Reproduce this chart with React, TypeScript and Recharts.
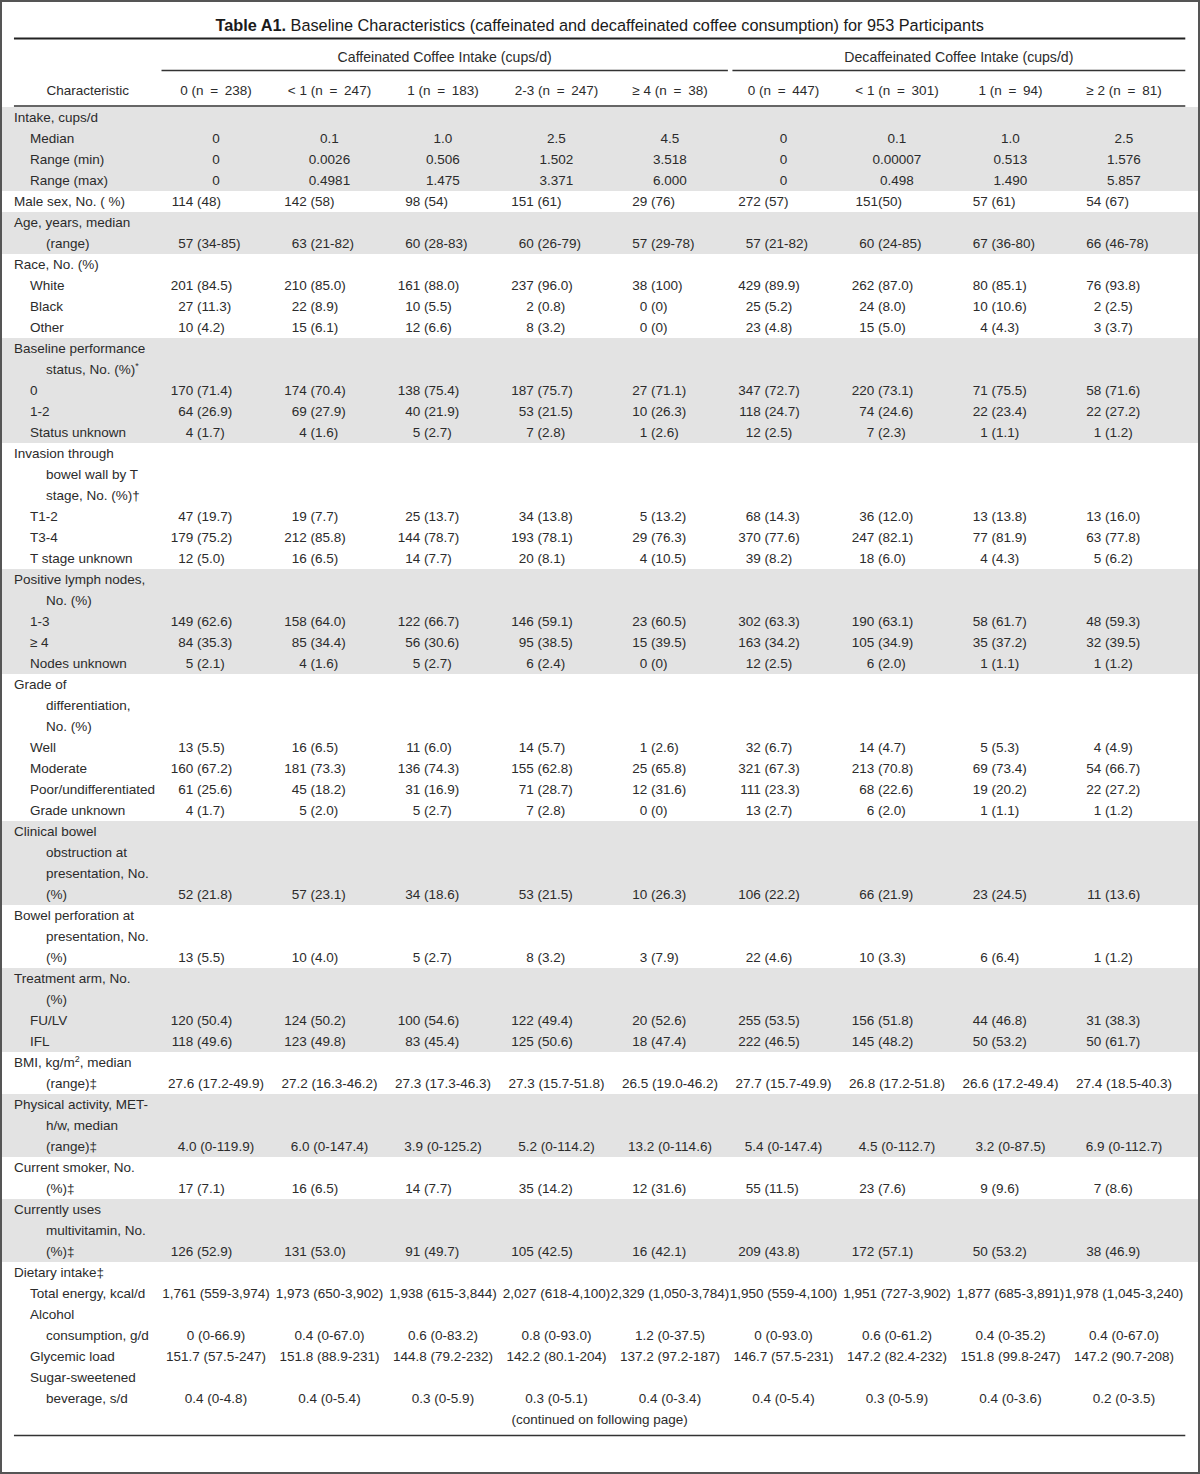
import React from 'react';
import { ScatterChart, Scatter, XAxis, YAxis, ReferenceArea, ReferenceLine } from 'recharts';

// ---------- text content ----------
const TITLE_BOLD = 'Table A1.';
const TITLE_REST = ' Baseline Characteristics (caffeinated and decaffeinated coffee consumption) for 953 Participants';
const GROUP_HEADERS = ['Caffeinated Coffee Intake (cups/d)', 'Decaffeinated Coffee Intake (cups/d)'];
const STUB_HEADER = 'Characteristic';
const COLUMN_HEADERS = [
  '0 (n = 238)', '< 1 (n = 247)', '1 (n = 183)', '2-3 (n = 247)', '\u2265 4 (n = 38)',
  '0 (n = 447)', '< 1 (n = 301)', '1 (n = 94)', '\u2265 2 (n = 81)',
];
const FOOTER = '(continued on following page)';

// ---------- values ----------
const intakeMedian = ['0', '0.1', '1.0', '2.5', '4.5', '0', '0.1', '1.0', '2.5'];
const intakeMin = ['0', '0.0026', '0.506', '1.502', '3.518', '0', '0.00007', '0.513', '1.576'];
const intakeMax = ['0', '0.4981', '1.475', '3.371', '6.000', '0', '0.498', '1.490', '5.857'];
const maleSex = ['114 (48)', '142 (58)', '98 (54)', '151 (61)', '29 (76)', '272 (57)', '151(50)', '57 (61)', '54 (67)'];
const ageRange = ['57 (34-85)', '63 (21-82)', '60 (28-83)', '60 (26-79)', '57 (29-78)', '57 (21-82)', '60 (24-85)', '67 (36-80)', '66 (46-78)'];
const raceWhite = ['201 (84.5)', '210 (85.0)', '161 (88.0)', '237 (96.0)', '38 (100)', '429 (89.9)', '262 (87.0)', '80 (85.1)', '76 (93.8)'];
const raceBlack = ['27 (11.3)', '22 (8.9)', '10 (5.5)', '2 (0.8)', '0 (0)', '25 (5.2)', '24 (8.0)', '10 (10.6)', '2 (2.5)'];
const raceOther = ['10 (4.2)', '15 (6.1)', '12 (6.6)', '8 (3.2)', '0 (0)', '23 (4.8)', '15 (5.0)', '4 (4.3)', '3 (3.7)'];
const ps0 = ['170 (71.4)', '174 (70.4)', '138 (75.4)', '187 (75.7)', '27 (71.1)', '347 (72.7)', '220 (73.1)', '71 (75.5)', '58 (71.6)'];
const ps12 = ['64 (26.9)', '69 (27.9)', '40 (21.9)', '53 (21.5)', '10 (26.3)', '118 (24.7)', '74 (24.6)', '22 (23.4)', '22 (27.2)'];
const psUnknown = ['4 (1.7)', '4 (1.6)', '5 (2.7)', '7 (2.8)', '1 (2.6)', '12 (2.5)', '7 (2.3)', '1 (1.1)', '1 (1.2)'];
const t12 = ['47 (19.7)', '19 (7.7)', '25 (13.7)', '34 (13.8)', '5 (13.2)', '68 (14.3)', '36 (12.0)', '13 (13.8)', '13 (16.0)'];
const t34 = ['179 (75.2)', '212 (85.8)', '144 (78.7)', '193 (78.1)', '29 (76.3)', '370 (77.6)', '247 (82.1)', '77 (81.9)', '63 (77.8)'];
const tUnknown = ['12 (5.0)', '16 (6.5)', '14 (7.7)', '20 (8.1)', '4 (10.5)', '39 (8.2)', '18 (6.0)', '4 (4.3)', '5 (6.2)'];
const ln13 = ['149 (62.6)', '158 (64.0)', '122 (66.7)', '146 (59.1)', '23 (60.5)', '302 (63.3)', '190 (63.1)', '58 (61.7)', '48 (59.3)'];
const ln4 = ['84 (35.3)', '85 (34.4)', '56 (30.6)', '95 (38.5)', '15 (39.5)', '163 (34.2)', '105 (34.9)', '35 (37.2)', '32 (39.5)'];
const lnUnknown = ['5 (2.1)', '4 (1.6)', '5 (2.7)', '6 (2.4)', '0 (0)', '12 (2.5)', '6 (2.0)', '1 (1.1)', '1 (1.2)'];
const gradeWell = ['13 (5.5)', '16 (6.5)', '11 (6.0)', '14 (5.7)', '1 (2.6)', '32 (6.7)', '14 (4.7)', '5 (5.3)', '4 (4.9)'];
const gradeModerate = ['160 (67.2)', '181 (73.3)', '136 (74.3)', '155 (62.8)', '25 (65.8)', '321 (67.3)', '213 (70.8)', '69 (73.4)', '54 (66.7)'];
const gradePoor = ['61 (25.6)', '45 (18.2)', '31 (16.9)', '71 (28.7)', '12 (31.6)', '111 (23.3)', '68 (22.6)', '19 (20.2)', '22 (27.2)'];
const gradeUnknown = ['4 (1.7)', '5 (2.0)', '5 (2.7)', '7 (2.8)', '0 (0)', '13 (2.7)', '6 (2.0)', '1 (1.1)', '1 (1.2)'];
const obstruction = ['52 (21.8)', '57 (23.1)', '34 (18.6)', '53 (21.5)', '10 (26.3)', '106 (22.2)', '66 (21.9)', '23 (24.5)', '11 (13.6)'];
const perforation = ['13 (5.5)', '10 (4.0)', '5 (2.7)', '8 (3.2)', '3 (7.9)', '22 (4.6)', '10 (3.3)', '6 (6.4)', '1 (1.2)'];
const armFULV = ['120 (50.4)', '124 (50.2)', '100 (54.6)', '122 (49.4)', '20 (52.6)', '255 (53.5)', '156 (51.8)', '44 (46.8)', '31 (38.3)'];
const armIFL = ['118 (49.6)', '123 (49.8)', '83 (45.4)', '125 (50.6)', '18 (47.4)', '222 (46.5)', '145 (48.2)', '50 (53.2)', '50 (61.7)'];
const bmi = ['27.6 (17.2-49.9)', '27.2 (16.3-46.2)', '27.3 (17.3-46.3)', '27.3 (15.7-51.8)', '26.5 (19.0-46.2)', '27.7 (15.7-49.9)', '26.8 (17.2-51.8)', '26.6 (17.2-49.4)', '27.4 (18.5-40.3)'];
const activity = ['4.0 (0-119.9)', '6.0 (0-147.4)', '3.9 (0-125.2)', '5.2 (0-114.2)', '13.2 (0-114.6)', '5.4 (0-147.4)', '4.5 (0-112.7)', '3.2 (0-87.5)', '6.9 (0-112.7)'];
const smoker = ['17 (7.1)', '16 (6.5)', '14 (7.7)', '35 (14.2)', '12 (31.6)', '55 (11.5)', '23 (7.6)', '9 (9.6)', '7 (8.6)'];
const multivitamin = ['126 (52.9)', '131 (53.0)', '91 (49.7)', '105 (42.5)', '16 (42.1)', '209 (43.8)', '172 (57.1)', '50 (53.2)', '38 (46.9)'];
const energy = ['1,761 (559-3,974)', '1,973 (650-3,902)', '1,938 (615-3,844)', '2,027 (618-4,100)', '2,329 (1,050-3,784)', '1,950 (559-4,100)', '1,951 (727-3,902)', '1,877 (685-3,891)', '1,978 (1,045-3,240)'];
const alcohol = ['0 (0-66.9)', '0.4 (0-67.0)', '0.6 (0-83.2)', '0.8 (0-93.0)', '1.2 (0-37.5)', '0 (0-93.0)', '0.6 (0-61.2)', '0.4 (0-35.2)', '0.4 (0-67.0)'];
const glycemic = ['151.7 (57.5-247)', '151.8 (88.9-231)', '144.8 (79.2-232)', '142.2 (80.1-204)', '137.2 (97.2-187)', '146.7 (57.5-231)', '147.2 (82.4-232)', '151.8 (99.8-247)', '147.2 (90.7-208)'];
const sugar = ['0.4 (0-4.8)', '0.4 (0-5.4)', '0.3 (0-5.9)', '0.3 (0-5.1)', '0.4 (0-3.4)', '0.4 (0-5.4)', '0.3 (0-5.9)', '0.4 (0-3.6)', '0.2 (0-3.5)'];

// row: [label, indent level, values, alignment] ; '^x^' marks superscript
type Row = [string, number, string[]?, ('c' | 'p')?];
const GROUPS: Row[][] = [
  [['Intake, cups/d', 0], ['Median', 1, intakeMedian, 'c'], ['Range (min)', 1, intakeMin, 'c'], ['Range (max)', 1, intakeMax, 'c']],
  [['Male sex, No. ( %)', 0, maleSex, 'p']],
  [['Age, years, median', 0], ['(range)', 2, ageRange, 'p']],
  [['Race, No. (%)', 0], ['White', 1, raceWhite, 'p'], ['Black', 1, raceBlack, 'p'], ['Other', 1, raceOther, 'p']],
  [['Baseline performance', 0], ['status, No. (%)^*^', 2], ['0', 1, ps0, 'p'], ['1-2', 1, ps12, 'p'], ['Status unknown', 1, psUnknown, 'p']],
  [['Invasion through', 0], ['bowel wall by T', 2], ['stage, No. (%)\u2020', 2], ['T1-2', 1, t12, 'p'], ['T3-4', 1, t34, 'p'], ['T stage unknown', 1, tUnknown, 'p']],
  [['Positive lymph nodes,', 0], ['No. (%)', 2], ['1-3', 1, ln13, 'p'], ['\u2265 4', 1, ln4, 'p'], ['Nodes unknown', 1, lnUnknown, 'p']],
  [['Grade of', 0], ['differentiation,', 2], ['No. (%)', 2], ['Well', 1, gradeWell, 'p'], ['Moderate', 1, gradeModerate, 'p'], ['Poor/undifferentiated', 1, gradePoor, 'p'], ['Grade unknown', 1, gradeUnknown, 'p']],
  [['Clinical bowel', 0], ['obstruction at', 2], ['presentation, No.', 2], ['(%)', 2, obstruction, 'p']],
  [['Bowel perforation at', 0], ['presentation, No.', 2], ['(%)', 2, perforation, 'p']],
  [['Treatment arm, No.', 0], ['(%)', 2], ['FU/LV', 1, armFULV, 'p'], ['IFL', 1, armIFL, 'p']],
  [['BMI, kg/m^2^, median', 0], ['(range)\u2021', 2, bmi, 'c']],
  [['Physical activity, MET-', 0], ['h/w, median', 2], ['(range)\u2021', 2, activity, 'c']],
  [['Current smoker, No.', 0], ['(%)\u2021', 2, smoker, 'p']],
  [['Currently uses', 0], ['multivitamin, No.', 2], ['(%)\u2021', 2, multivitamin, 'p']],
  [['Dietary intake\u2021', 0], ['Total energy, kcal/d', 1, energy, 'c'], ['Alcohol', 1], ['consumption, g/d', 2, alcohol, 'c'], ['Glycemic load', 1, glycemic, 'c'], ['Sugar-sweetened', 1], ['beverage, s/d', 2, sugar, 'c']],
];

// ---------- layout (axis units: x = column index, y = text line index) ----------
const X_DOMAIN: [number, number] = [-0.903, 9.6696];
const Y_DOMAIN: [number, number] = [-5.595, 64.595];
const TABLE_LEFT = -0.78;
const TABLE_RIGHT = 9.54;
const CAF_SPAN: [number, number] = [0.52, 5.51];
const DECAF_SPAN: [number, number] = [5.55, 9.54];
const TITLE_LINE = -4.4;
const GROUP_LINE = -2.88;
const HEADER_LINE = -1.31;
const TOP_RULE = -3.76;
const GROUP_RULE = -2.24;
const HEADER_RULE = -0.55;
const FONT = "'Liberation Sans', Arial, Helvetica, sans-serif";
const INK = '#2b2b2b';
const SHADE = '#e3e3e3';
const FS = 13.5;
const INDENT = [0, 16, 32];
const PAREN_SHIFT = -19;
const SPACE_W = 3.8;

// ---------- build cells ----------
type Cell = { x: number; y: number; text: string; kind: string; indent?: number; bold?: string; size?: number };
const bodyCells: Cell[] = [];
const bands: { y1: number; y2: number }[] = [];
let line = 0;
GROUPS.forEach((g, gi) => {
  const start = line;
  g.forEach(([label, indent, values, align]) => {
    bodyCells.push({ x: TABLE_LEFT, y: line, text: label, kind: 'label', indent });
    if (values) values.forEach((v, j) => bodyCells.push({ x: j + 1, y: line, text: v, kind: align || 'c' }));
    line += 1;
  });
  if (gi % 2 === 0) bands.push({ y1: start - 0.5, y2: line - 0.5 });
});
const footerLine = line;
const bottomRule = footerLine + 0.76;

const widenEquals = (t: string) => t.replace(' = ', '\u2002=\u2002');

const headerCells: Cell[] = [
  { x: (TABLE_LEFT + TABLE_RIGHT) / 2, y: TITLE_LINE, text: TITLE_REST, bold: TITLE_BOLD, kind: 'title' },
  { x: (CAF_SPAN[0] + CAF_SPAN[1]) / 2, y: GROUP_LINE, text: GROUP_HEADERS[0], kind: 'c', size: 14.1 },
  { x: (DECAF_SPAN[0] + DECAF_SPAN[1]) / 2, y: GROUP_LINE, text: GROUP_HEADERS[1], kind: 'c', size: 14.1 },
  { x: (TABLE_LEFT + CAF_SPAN[0]) / 2, y: HEADER_LINE, text: STUB_HEADER, kind: 'c' },
  ...COLUMN_HEADERS.map((t, i) => ({ x: i + 1, y: HEADER_LINE, text: widenEquals(t), kind: 'c' })),
  { x: (TABLE_LEFT + TABLE_RIGHT) / 2, y: footerLine, text: FOOTER, kind: 'c' },
];

function renderRich(text: string) {
  const parts = text.split('^');
  const out: any[] = [];
  parts.forEach((p, i) => {
    if (!p) return;
    if (i % 2 === 1) {
      out.push(<tspan key={i} dy={-5} fontSize={9}>{p}</tspan>);
    } else if (i > 0) {
      out.push(<tspan key={i} dy={5}>{p}</tspan>);
    } else {
      out.push(<tspan key={i}>{p}</tspan>);
    }
  });
  return out;
}

function CellShape(props: any) {
  const { cx, cy, payload } = props;
  if (cx == null || cy == null || !payload) return null;
  const p: Cell = payload;
  const base: any = { fontFamily: FONT, fontSize: p.size || FS, fill: INK, dy: '0.36em' };
  if (p.kind === 'label') {
    return <text {...base} x={cx + INDENT[p.indent || 0]} y={cy} textAnchor="start">{renderRich(p.text)}</text>;
  }
  if (p.kind === 'title') {
    return (
      <text {...base} fontSize={16.3} fill="#1a1a1a" x={cx} y={cy} textAnchor="middle">
        <tspan fontWeight="bold">{p.bold}</tspan>
        <tspan>{p.text}</tspan>
      </text>
    );
  }
  if (p.kind === 'p') {
    const idx = p.text.indexOf('(');
    if (idx > 0) {
      const left = p.text.slice(0, idx).trimEnd();
      const right = p.text.slice(idx);
      const hasSpace = p.text[idx - 1] === ' ';
      const px = cx + PAREN_SHIFT;
      return (
        <g>
          <text {...base} x={px - (hasSpace ? SPACE_W : 0)} y={cy} textAnchor="end">{left}</text>
          <text {...base} x={px} y={cy} textAnchor="start">{right}</text>
        </g>
      );
    }
  }
  return <text {...base} x={cx} y={cy} textAnchor="middle">{p.text}</text>;
}

export default function App() {
  return (
    <div style={{ position: 'absolute', left: 0, top: 0, width: 1200, height: 1474, background: '#fff' }}>
      <ScatterChart width={1200} height={1474} margin={{ top: 0, right: 0, bottom: 0, left: 0 }}>
        <XAxis type="number" dataKey="x" domain={X_DOMAIN} hide allowDataOverflow />
        <YAxis type="number" dataKey="y" domain={Y_DOMAIN} hide reversed allowDataOverflow />
        {bands.map((b, i) => (
          <ReferenceArea key={'b' + i} x1={X_DOMAIN[0]} x2={X_DOMAIN[1]} y1={b.y1} y2={b.y2}
            fill={SHADE} fillOpacity={1} stroke="none" ifOverflow="visible" />
        ))}
        <ReferenceLine segment={[{ x: TABLE_LEFT, y: TOP_RULE }, { x: TABLE_RIGHT, y: TOP_RULE }]} stroke="#222" strokeWidth={2} ifOverflow="visible" />
        <ReferenceLine segment={[{ x: CAF_SPAN[0], y: GROUP_RULE }, { x: CAF_SPAN[1], y: GROUP_RULE }]} stroke="#333" strokeWidth={1.5} ifOverflow="visible" />
        <ReferenceLine segment={[{ x: DECAF_SPAN[0], y: GROUP_RULE }, { x: DECAF_SPAN[1], y: GROUP_RULE }]} stroke="#333" strokeWidth={1.5} ifOverflow="visible" />
        <ReferenceLine segment={[{ x: TABLE_LEFT, y: HEADER_RULE }, { x: TABLE_RIGHT, y: HEADER_RULE }]} stroke="#333" strokeWidth={1.5} ifOverflow="visible" />
        <ReferenceLine segment={[{ x: TABLE_LEFT, y: bottomRule }, { x: TABLE_RIGHT, y: bottomRule }]} stroke="#333" strokeWidth={1.5} ifOverflow="visible" />
        <Scatter data={headerCells} shape={CellShape} isAnimationActive={false} />
        <Scatter data={bodyCells} shape={CellShape} isAnimationActive={false} />
      </ScatterChart>
      <div style={{ position: 'absolute', left: 0, top: 0, width: 1200, height: 1474, boxSizing: 'border-box', border: '2px solid #555', pointerEvents: 'none' }} />
    </div>
  );
}
